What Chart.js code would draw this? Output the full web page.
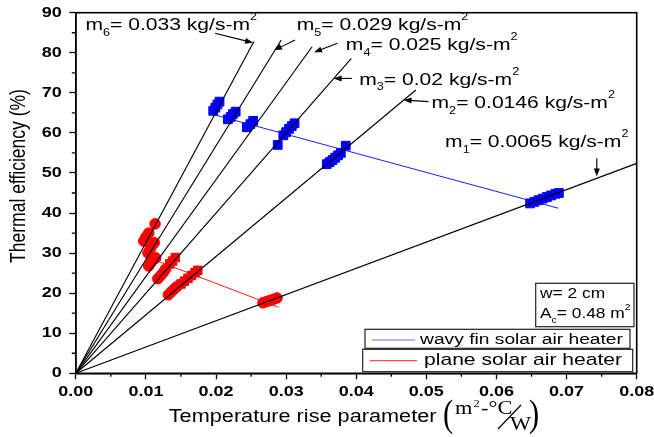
<!DOCTYPE html>
<html>
<head>
<meta charset="utf-8">
<script src="https://cdn.jsdelivr.net/npm/chart.js@4.4.0/dist/chart.umd.min.js"></script>
<style>
body{margin:0;background:#fff;}
</style>
</head>
<body>
<canvas id="eff_chart" width="654" height="437"></canvas>
<script>
// mass flow rates (kg/s-m2), m1 .. m6
var massFlow = ['0.0065', '0.0146', '0.02', '0.025', '0.029', '0.033'];
// straight fits through the origin, one per flow rate (end point)
var fitEndX = [0.08, 0.0485, 0.0393, 0.0337, 0.0293, 0.0254];
var fitEndY = [52.4, 70.7, 78.6, 81.5, 83.2, 82.8];

// wavy fin heater, measured points
var wavyX = [0.0196, 0.0199, 0.0202, 0.0205, 0.0217, 0.0221, 0.0224, 0.0228,
    0.0244, 0.0249, 0.0253, 0.0288, 0.0296, 0.0300, 0.0304, 0.0308, 0.0312,
    0.0358, 0.0362, 0.0366, 0.0370, 0.0374, 0.0378, 0.0385,
    0.0648, 0.0654, 0.0660, 0.0666, 0.0672, 0.0678, 0.0684, 0.0689];
var wavyY = [65.5, 66.3, 67.1, 67.8, 63.4, 64.0, 64.7, 65.3,
    61.4, 62.2, 63.0, 57.0, 59.4, 60.2, 61.0, 61.7, 62.4,
    52.2, 52.7, 53.2, 53.8, 54.4, 55.0, 56.8,
    42.4, 42.8, 43.2, 43.6, 44.0, 44.4, 44.8, 45.0];

// plane heater, measured points (circles and squares)
var plainCircX = [0.0113, 0.0097, 0.0100, 0.0104, 0.0103, 0.0106, 0.0109, 0.0112,
    0.0104, 0.0107, 0.0111, 0.0114, 0.0117, 0.0121, 0.0125, 0.0128,
    0.0132, 0.0136, 0.0140, 0.0144, 0.0267, 0.0272, 0.0277, 0.0282, 0.0287];
var plainCircY = [37.3, 33.0, 34.0, 35.0, 30.0, 31.0, 32.0, 32.6,
    26.8, 27.6, 28.4, 28.8, 23.6, 24.4, 25.2, 26.0,
    19.6, 20.3, 21.0, 21.6, 17.6, 17.9, 18.2, 18.5, 18.8];
var plainRectX = [0.0134, 0.0138, 0.0142, 0.0150, 0.0155, 0.0160, 0.0165, 0.0170, 0.0174];
var plainRectY = [27.3, 28.0, 28.9, 22.3, 23.0, 23.7, 24.4, 25.1, 25.7];

// trend lines joining the clusters
var wavyTrendX = [0.0198, 0.0688];
var wavyTrendY = [64.5, 41.2];
var plainTrendX = [0.0118, 0.0289];
var plainTrendY = [27.9, 16.5];

var xTicks = [0, 0.01, 0.02, 0.03, 0.04, 0.05, 0.06, 0.07, 0.08];
var yTicks = [0, 10, 20, 30, 40, 50, 60, 70, 80, 90];

// label / arrow placement for the flow rate notes (axis units)
var noteX = [0.05267, 0.05074, 0.04043, 0.03852, 0.03151, 0.00137];
var noteY = [57.7, 67.3, 73.2, 81.9, 86.75, 86.75];
var arrowFrom = [[0.07431, 53.65], [0.05029, 67.8], [0.03936, 73.6], [0.03733, 82.4], [0.03127, 83.2], [0.01986, 84.85]];
var arrowTo = [[0.07431, 49.1], [0.04675, 68.2], [0.03676, 73.6], [0.03398, 80.1], [0.02827, 80.6], [0.02528, 82.5]];

var SX = 1.24; // lettering is drawn a bit wide
var SANS = '"Liberation Sans", Arial, sans-serif';
var SERIF = '"Liberation Serif", "Times New Roman", serif';

function pts(xs, ys) {
    return xs.map(function (x, i) { return {x: x, y: ys[i]}; });
}

function sText(ctx, str, x, y, font, align) {
    ctx.save();
    ctx.font = font;
    ctx.textAlign = align || 'left';
    ctx.textBaseline = 'middle';
    ctx.translate(x, y);
    ctx.scale(SX, 1);
    ctx.fillText(str, 0, 0);
    ctx.restore();
}

// text with sub/superscripts: parts = [[text, 'sub'|'sup'|null], ...]
function richText(ctx, parts, x, y, size) {
    var cx = x;
    parts.forEach(function (p) {
        var fs = p[1] ? size * 0.6 : size;
        var dy = p[1] == 'sub' ? size * 0.45 : (p[1] == 'sup' ? -size * 0.48 : 0);
        ctx.save();
        ctx.font = fs + 'px ' + SANS;
        ctx.textBaseline = 'middle';
        ctx.translate(cx, y + dy);
        ctx.scale(SX, 1);
        ctx.fillText(p[0], 0, 0);
        cx += ctx.measureText(p[0]).width * SX;
        ctx.restore();
    });
}

function arrow(ctx, x1, y1, x2, y2) {
    var a = Math.atan2(y2 - y1, x2 - x1), L = 8, W = 3;
    var c = Math.cos(a), s = Math.sin(a);
    ctx.beginPath();
    ctx.moveTo(x1, y1);
    ctx.lineTo(x2 - L * 0.7 * c, y2 - L * 0.7 * s);
    ctx.stroke();
    ctx.beginPath();
    ctx.moveTo(x2, y2);
    ctx.lineTo(x2 - L * c + W * s, y2 - L * s - W * c);
    ctx.lineTo(x2 - L * c - W * s, y2 - L * s + W * c);
    ctx.closePath();
    ctx.fill();
}

var decor = {
    id: 'decor',
    afterDraw: function (chart) {
        var ctx = chart.ctx, a = chart.chartArea;
        var xs = chart.scales.x, ys = chart.scales.y;
        ctx.save();
        ctx.strokeStyle = '#000';
        ctx.fillStyle = '#000';

        // frame
        ctx.lineWidth = 1.6;
        ctx.strokeRect(a.left, a.top, a.right - a.left, a.bottom - a.top);

        // minor ticks
        ctx.lineWidth = 1.3;
        ctx.beginPath();
        for (var i = 0; i < xTicks.length - 1; i++) {
            var px = xs.getPixelForValue((xTicks[i] + xTicks[i + 1]) / 2);
            ctx.moveTo(px, a.bottom);
            ctx.lineTo(px, a.bottom + 3.5);
        }
        for (var j = 0; j < yTicks.length - 1; j++) {
            var py = ys.getPixelForValue((yTicks[j] + yTicks[j + 1]) / 2);
            ctx.moveTo(a.left, py);
            ctx.lineTo(a.left - 4, py);
        }
        ctx.stroke();

        // tick labels
        xTicks.forEach(function (v) {
            sText(ctx, v.toFixed(2), xs.getPixelForValue(v), a.bottom + 18.4, 'bold 14.5px ' + SANS, 'center');
        });
        yTicks.forEach(function (v) {
            sText(ctx, String(v), a.left - 14, ys.getPixelForValue(v), 'bold 14.5px ' + SANS, 'right');
        });

        // axis titles
        ctx.save();
        ctx.translate(18.75, 176);
        ctx.scale(SX, 1);
        ctx.rotate(-Math.PI / 2);
        ctx.font = '17.5px ' + SANS;
        ctx.textAlign = 'center';
        ctx.textBaseline = 'middle';
        ctx.fillText('Thermal efficiency (%)', 0, 0);
        ctx.restore();

        sText(ctx, 'Temperature rise parameter', 168.75, 416.7, '17.5px ' + SANS, 'left');
        // unit  ( m2-°C / W )
        ctx.save();
        ctx.font = '38px ' + SERIF;
        ctx.textBaseline = 'alphabetic';
        ctx.translate(443, 426);
        ctx.scale(0.8, 1);
        ctx.fillText('(', 0, 0);
        ctx.restore();
        ctx.save();
        ctx.font = '38px ' + SERIF;
        ctx.textBaseline = 'alphabetic';
        ctx.translate(529, 426);
        ctx.scale(0.8, 1);
        ctx.fillText(')', 0, 0);
        ctx.restore();
        ctx.save();
        ctx.font = '18px ' + SERIF;
        ctx.textBaseline = 'alphabetic';
        ctx.translate(455, 414);
        ctx.scale(SX, 1);
        ctx.fillText('m', 0, 0);
        var w = ctx.measureText('m').width;
        ctx.font = '10px ' + SERIF;
        ctx.fillText('2', w + 1, -7);
        var w2 = w + 1 + ctx.measureText('2').width + 1;
        ctx.font = '18px ' + SERIF;
        ctx.fillText('-°C', w2, 0);
        ctx.restore();
        ctx.lineWidth = 1.2;
        ctx.beginPath();
        ctx.moveTo(498, 429);
        ctx.lineTo(521, 405);
        ctx.stroke();
        ctx.save();
        ctx.font = '18px ' + SERIF;
        ctx.textBaseline = 'alphabetic';
        ctx.translate(510, 430);
        ctx.scale(SX, 1);
        ctx.fillText('W', 0, 0);
        ctx.restore();

        // flow rate notes with arrows
        ctx.lineWidth = 1.1;
        massFlow.forEach(function (m, i) {
            richText(ctx, [['m', null], [String(i + 1), 'sub'], ['= ' + m + ' kg/s-m', null], ['2', 'sup']],
                xs.getPixelForValue(noteX[i]), ys.getPixelForValue(noteY[i]), 17);
            arrow(ctx, xs.getPixelForValue(arrowFrom[i][0]), ys.getPixelForValue(arrowFrom[i][1]),
                xs.getPixelForValue(arrowTo[i][0]), ys.getPixelForValue(arrowTo[i][1]));
        });

        // info box
        ctx.lineWidth = 1.2;
        ctx.strokeStyle = '#222';
        ctx.fillStyle = '#fff';
        ctx.fillRect(535.7, 283.3, 98.3, 43.4);
        ctx.strokeRect(535.7, 283.3, 98.3, 43.4);
        ctx.fillStyle = '#000';
        sText(ctx, 'w= 2 cm', 540, 293.8, '14px ' + SANS, 'left');
        richText(ctx, [['A', null], ['c', 'sub'], ['= 0.48 m', null], ['2', 'sup']], 540, 314, 14);

        // legend boxes
        ctx.fillStyle = '#fff';
        ctx.fillRect(365, 329.3, 265, 19);
        ctx.strokeRect(365, 329.3, 265, 19);
        ctx.fillRect(362.7, 349.3, 270, 22.4);
        ctx.strokeRect(362.7, 349.3, 270, 22.4);
        ctx.lineWidth = 1;
        ctx.strokeStyle = '#6a6aff';
        ctx.beginPath();
        ctx.moveTo(372, 340);
        ctx.lineTo(415, 340);
        ctx.stroke();
        ctx.strokeStyle = '#ff2020';
        ctx.beginPath();
        ctx.moveTo(370, 360.7);
        ctx.lineTo(417, 360.7);
        ctx.stroke();
        ctx.fillStyle = '#000';
        sText(ctx, 'wavy fin solar air heater', 420, 339.5, '15.5px ' + SANS, 'left');
        sText(ctx, 'plane solar air heater', 424, 360.5, '17px ' + SANS, 'left');

        ctx.restore();
    }
};

var datasets = massFlow.map(function (m, i) {
    return {
        data: pts([0, fitEndX[i]], [0, fitEndY[i]]),
        showLine: true, borderColor: '#000', borderWidth: 1.15, pointRadius: 0, order: 0
    };
});
datasets.push({data: pts(wavyX, wavyY), pointStyle: 'rect', pointRadius: 6.2,
    backgroundColor: '#0000ff', borderColor: '#0000ff', borderWidth: 1, order: 1});
datasets.push({data: pts(plainCircX, plainCircY), pointStyle: 'circle', pointRadius: 5.3,
    backgroundColor: '#ff0000', borderColor: '#ff0000', borderWidth: 1, order: 1});
datasets.push({data: pts(plainRectX, plainRectY), pointStyle: 'rect', pointRadius: 6,
    backgroundColor: '#ff0000', borderColor: '#ff0000', borderWidth: 1, order: 1});
datasets.push({data: pts(wavyTrendX, wavyTrendY), showLine: true, borderColor: '#1a1aff',
    borderWidth: 1, pointRadius: 0, order: 2});
datasets.push({data: pts(plainTrendX, plainTrendY), showLine: true, borderColor: '#ff1a1a',
    borderWidth: 1, pointRadius: 0, order: 2});

var ctx = document.getElementById('eff_chart').getContext('2d');
var effChart = new Chart(ctx, {
    type: 'scatter',
    data: {datasets: datasets},
    options: {
        responsive: false,
        animation: false,
        events: [],
        layout: {autoPadding: false, padding: {left: 0, top: 12.7, right: 17.3, bottom: 0}},
        plugins: {legend: {display: false}, tooltip: {enabled: false}},
        scales: {
            x: {
                type: 'linear', min: 0, max: 0.08,
                afterFit: function (s) { s.height = 63.7; },
                afterBuildTicks: function (s) { s.ticks = xTicks.map(function (v) { return {value: v}; }); },
                ticks: {display: false},
                grid: {drawOnChartArea: false, drawTicks: true, tickLength: 6, tickColor: '#000', tickWidth: 1.3},
                border: {color: '#000', width: 1.6}
            },
            y: {
                type: 'linear', min: 0, max: 90,
                afterFit: function (s) { s.width = 75.8; },
                afterBuildTicks: function (s) { s.ticks = yTicks.map(function (v) { return {value: v}; }); },
                ticks: {display: false},
                grid: {drawOnChartArea: false, drawTicks: true, tickLength: 6.5, tickColor: '#000', tickWidth: 1.3},
                border: {color: '#000', width: 1.6}
            }
        }
    },
    plugins: [decor]
});
</script>
</body>
</html>
